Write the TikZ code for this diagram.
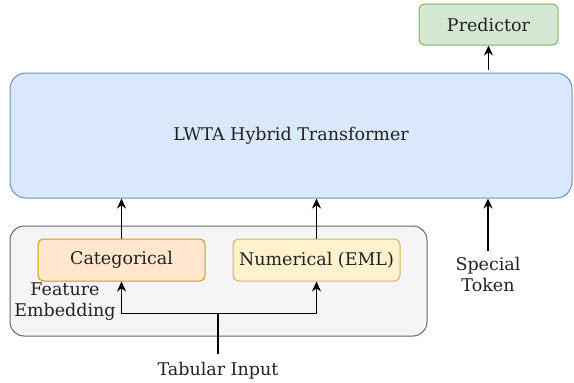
\documentclass[tikz,border=0pt]{standalone}
\usepackage{fontspec}
\setmainfont{DejaVu Serif}
\usepackage{xcolor}
\usetikzlibrary{
    positioning,     % For relative node placement
    arrows.meta,     % For arrow tips
    calc             % For coordinate calculations
}
\definecolor{transfill}{HTML}{DAE8FC}
\definecolor{transdraw}{HTML}{6C8EBF}
\definecolor{predfill}{HTML}{D5E8D4}
\definecolor{preddraw}{HTML}{82B366}
\definecolor{catfill}{HTML}{FFE6CC}
\definecolor{catdraw}{HTML}{D79B00}
\definecolor{numfill}{HTML}{FFF2CC}
\definecolor{numdraw}{HTML}{D6B656}
\definecolor{groupfill}{HTML}{F5F5F5}
\definecolor{groupdraw}{HTML}{666666}
\definecolor{textcolor}{HTML}{222222}

\begin{document}
\begin{tikzpicture}[x=1pt, y=-1pt]

    % --- Style Definitions ---
    \tikzset{
        % A general style for the coloured boxes
        block/.style={
            rectangle,
            rounded corners=6pt,
            line width=1pt,
            font=\fontsize{17.5}{20}\selectfont,
            text=textcolor,
            inner sep=0pt
        },
        % Plain text labels
        label text/.style={
            font=\fontsize{17.5}{21}\selectfont,
            text=textcolor,
            align=center,
            inner sep=0pt
        },
        % A style for all the arrows
        arrow/.style={
            -{Stealth[length=10pt, width=9pt]},
            line width=1.4pt,
            black
        }
    }

    \useasboundingbox (0,0) rectangle (574,383);

    % --- Node Placement ---
    % The feature embedding group in the background
    \node[block, rounded corners=14pt, fill=groupfill, draw=groupdraw,
          minimum width=417pt, minimum height=110pt] (group) at (218.5,281) {};

    % The main transformer block
    \node[block, rounded corners=16pt, fill=transfill, draw=transdraw,
          minimum width=562pt, minimum height=125pt] (trans) at (291,135.5)
          {LWTA Hybrid Transformer};

    % The predictor on top
    \node[block, fill=predfill, draw=preddraw,
          minimum width=139pt, minimum height=41pt] (pred) at (488.5,24.5)
          {Predictor};

    % The two embedding blocks
    \node[block, fill=catfill, draw=catdraw,
          minimum width=167pt, minimum height=42pt] (cat) at (121.5,260)
          {Categorical};
    \node[block, fill=numfill, draw=numdraw,
          minimum width=167pt, minimum height=42pt,
          right=27pt of cat] (num) {Numerical (EML)};

    % Text labels
    \node[label text] (feat) at (65,302) {Feature\\Embedding};
    \node[label text] (special) at (488,274) {Special\\Token};
    \node[label text] (tab) at (218,371) {Tabular Input};

    % --- Drawing Connections ---

    % 1. Into and out of the transformer
    \draw[arrow] (trans.north -| pred.south) ++(0,-3) -- (pred.south);
    \draw[arrow] (cat.north) -- (cat.north |- trans.south);
    \draw[arrow] (num.north) -- (num.north |- trans.south);
    \draw[arrow] ($(special.north)+(0,-6)$) -- (special.north |- trans.south);

    % 2. Tabular input split to both embeddings
    \coordinate (split) at ($(tab.north)+(0,-49)$);
    \draw[line width=1.4pt] ($(tab.north)+(0,-8)$) -- (split);
    \draw[arrow] (split) -| (cat.south);
    \draw[arrow] (split) -| (num.south);

\end{tikzpicture}
\end{document}
